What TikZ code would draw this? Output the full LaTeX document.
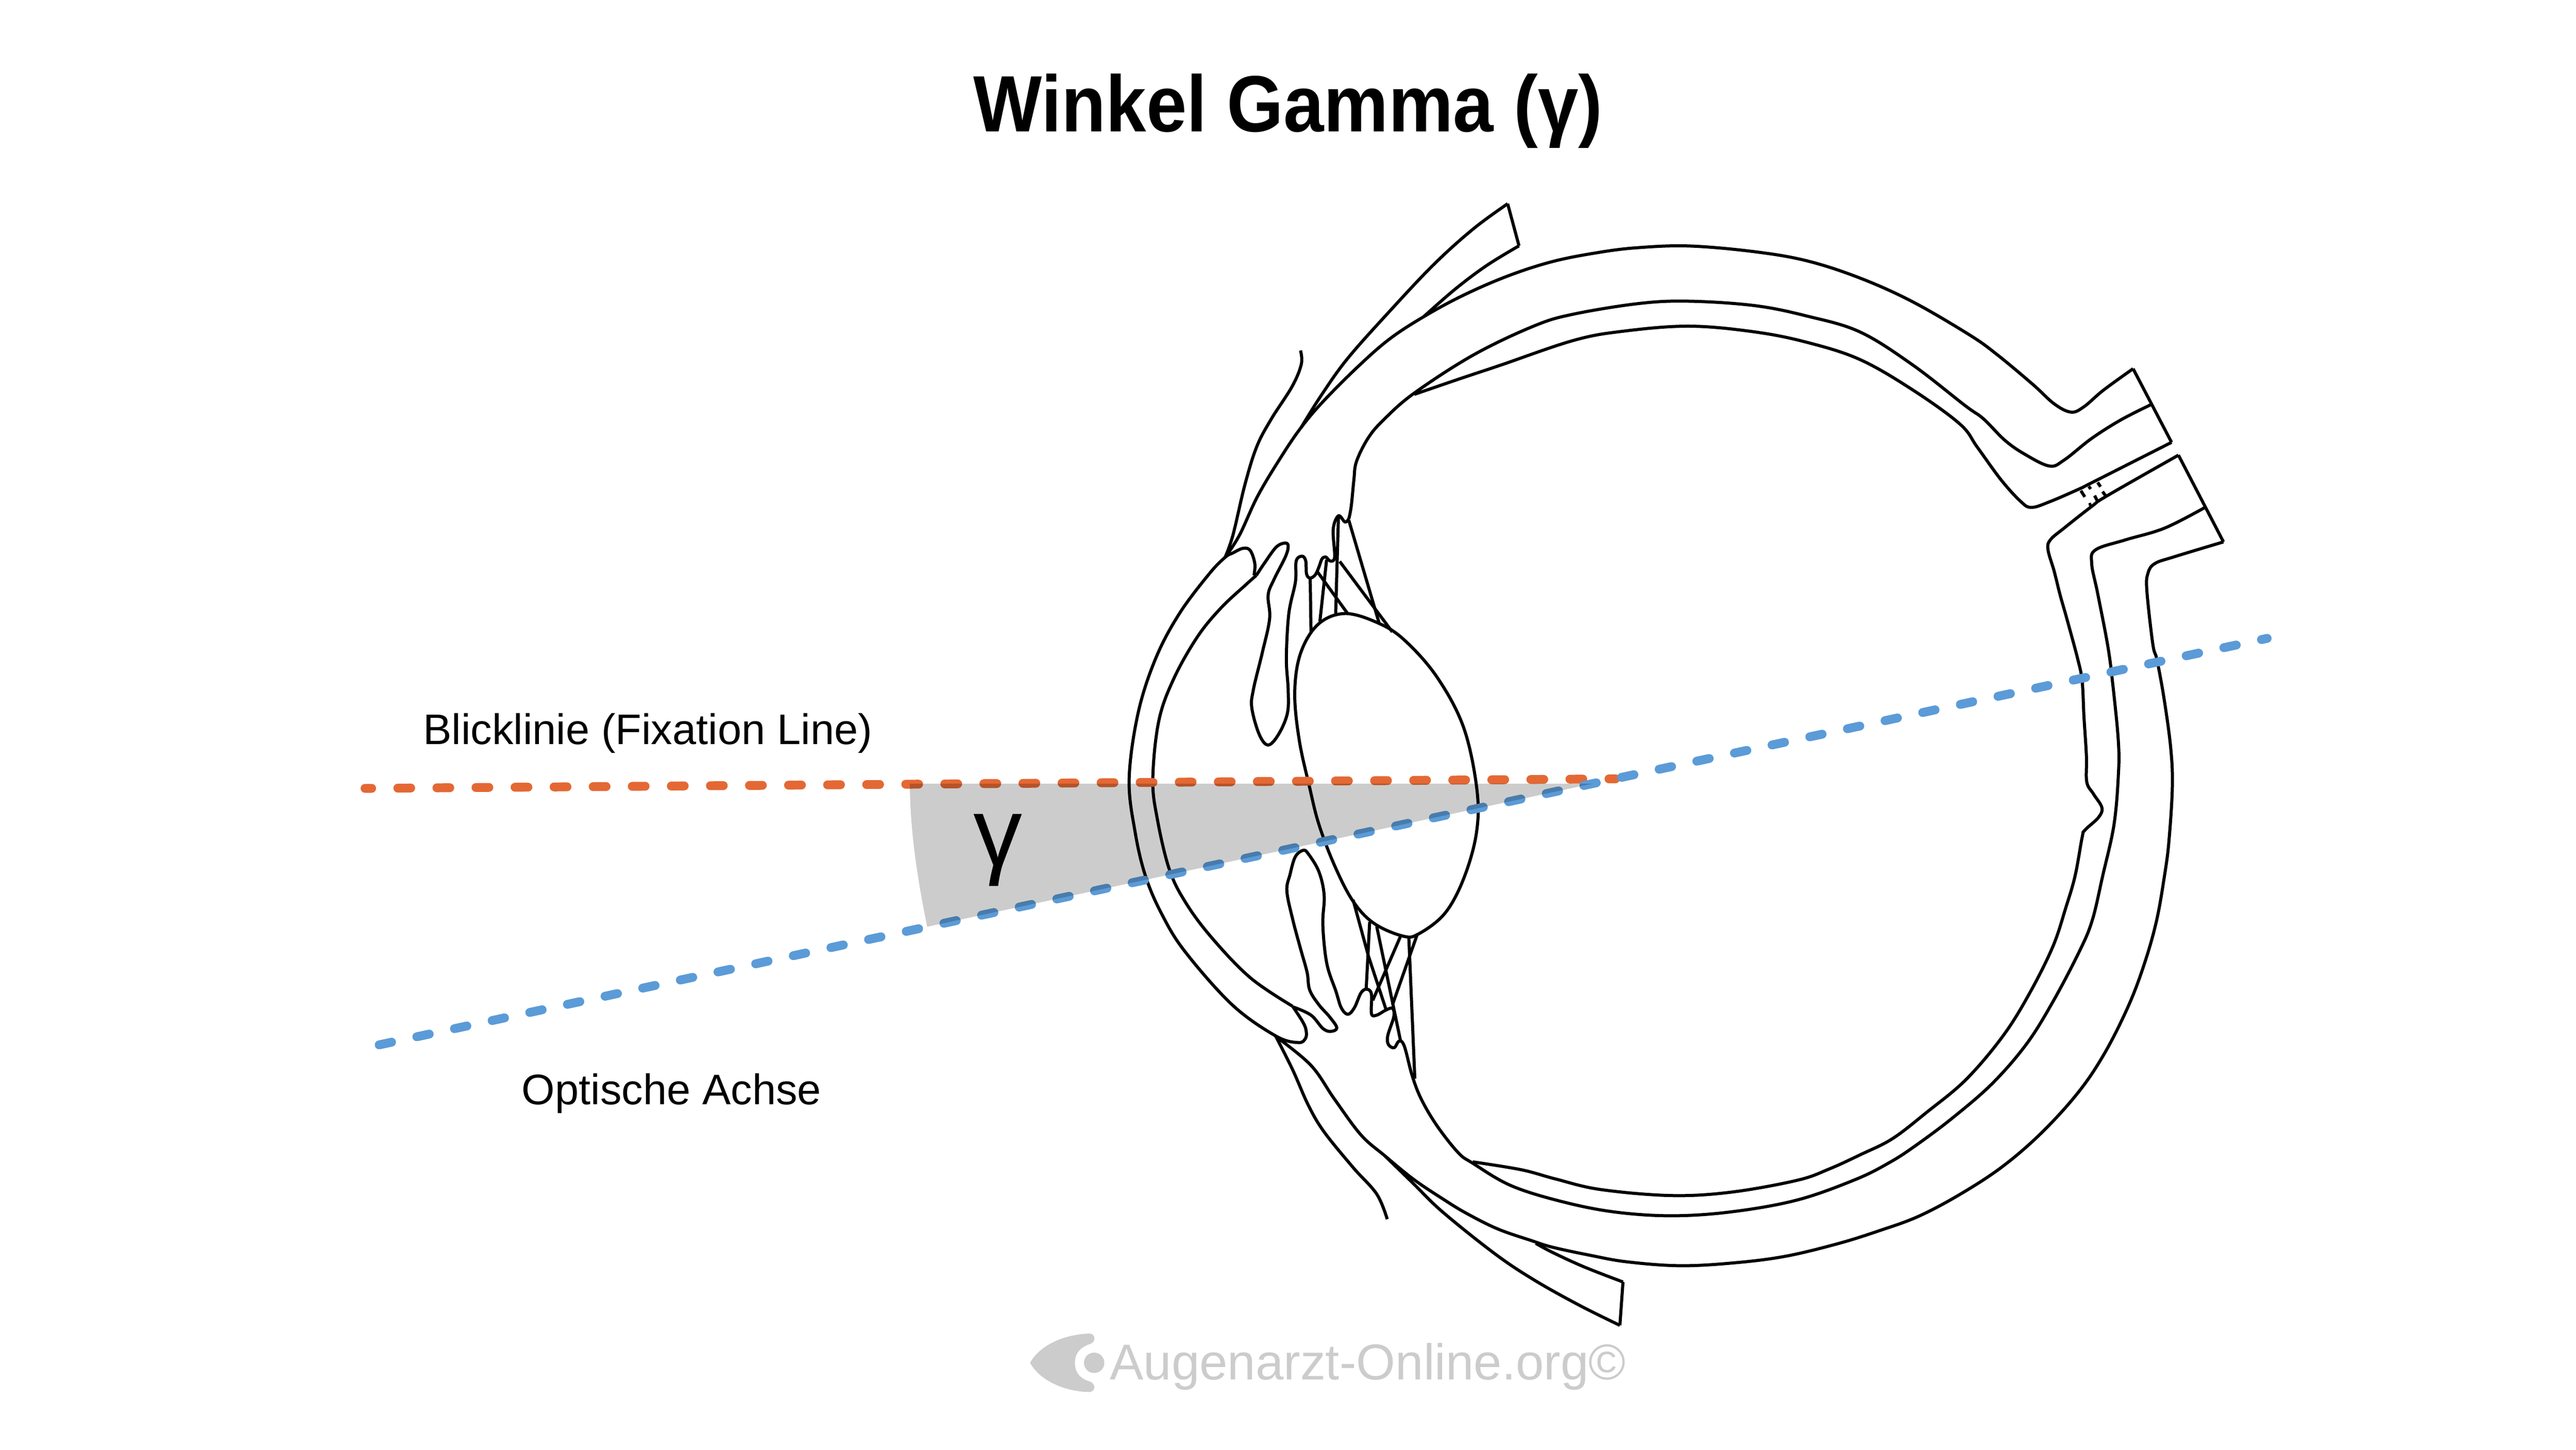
\documentclass[tikz,border=0pt]{standalone}
\usepackage{fontspec}
\setmainfont{Liberation Sans}
\definecolor{dashblue}{HTML}{5B9BD7}
\definecolor{dashorange}{HTML}{E46834}
\definecolor{wedgegrey}{HTML}{CCCCCC}
\tikzset{
  eyeline/.style={draw=black,line width=0.6pt,line join=round,line cap=butt},
  fixline/.style={line width=1.72pt,line cap=round,dash pattern=on 2.5pt off 5.085pt,dash phase=1.22pt},
  optline/.style={line width=1.72pt,line cap=round,dash pattern=on 2.46pt off 5.016pt},
  caption/.style={anchor=base west,inner sep=0pt,font=\fontsize{8.3pt}{10pt}\selectfont},
  mark text/.style={anchor=base west,inner sep=0pt,text=wedgegrey,font=\fontsize{9.78pt}{12pt}\selectfont}
}
\newcommand{\eyecurve}[1]{\draw[eyeline] plot[smooth,tension=.6] coordinates {#1};}
\begin{document}
\begin{tikzpicture}[x=0.31894pt,y=-0.31894pt]
\useasboundingbox (0,0) rectangle (1568,882.3);
\fill[white] (0,0) rectangle (1568,882.3);

% outer sclera, top to the nerve
\eyecurve{(745.7,339.2)(754.5,325.6)(765.7,301.6)(780.1,277.6)(792.1,260)(805.7,244)(826.5,223.2)(845.7,206.4)(866.5,192.8)(890.5,179.8)(917.7,168)(944.9,159.2)(972.1,153.8)(996.1,150.8)(1028.1,149.7)(1068.1,153.2)(1100.1,158.8)(1132.1,169.2)(1164.1,183.6)(1198.8,203.8)(1215.6,215.8)(1237.2,233.8)(1250.4,245.8)(1260.6,250.8)(1268.4,247.6)(1280.4,237.4)(1298.4,224.4)}
% nerve ends
\draw[eyeline] (1298.4,224.4) -- (1321.8,269.2);
\draw[eyeline] (1326,277) -- (1353.4,329.8);
% inner retina, upper
\eyecurve{(860.9,240)(888.9,230.4)(912.9,222.4)(957.7,207.2)(987.8,201.6)(1028.1,198.5)(1068.1,202)(1100.1,208.4)(1132.1,218.8)(1164.1,237.2)(1192.9,258)(1203.6,272.2)(1218,292)(1230,305.2)(1236.6,308.8)(1248,305.2)(1266,297.4)(1273.2,293.8)(1321.8,269.2)}
% middle layer, upper, into the ciliary edge
\eyecurve{(1309.8,246)(1291.2,255.4)(1273.2,266.8)(1256.4,280)(1247.4,283.6)(1232.4,276.4)(1220.4,268)(1207.2,254.8)(1196.1,246.8)(1164.1,222)(1132.1,202)(1100.1,192.4)(1068.1,186)(1028.1,183.3)(997.7,184.7)(957.7,191.2)(933.7,198.4)(896.9,216)(860.9,239.2)(842.5,255.2)(832.9,266.4)(825.7,280.8)(824.1,292)(822.5,308)(821,315.8)}
% superior tendon
\eyecurve{(917.7,124)(896.9,139.2)(872.9,160.8)(845.7,189.6)(820.1,218.4)(804.1,240.8)(792.1,260)}
\draw[eyeline] (917.7,124) -- (924.6,149.6);
\eyecurve{(924.6,149.6)(904.9,161.6)(885.7,176)(866.5,192.8)}
% upper conjunctiva
\eyecurve{(791.6,213.3)(792.1,221.6)(786.5,235.2)(773.7,255.2)(764.9,272)(757.7,295.2)(750.5,325.6)(745.7,339.2)}

% cornea
\eyecurve{(763.3,350.2)(763.8,343)(761,335)(756.6,333.7)(750.3,336.6)(745.7,339.2)(735.9,349.4)(717.9,373.4)(703.5,400.6)(692.7,434.2)(687.3,474.2)(690.9,506.2)(697.2,533)(707,556)(721.2,579)(750,611.5)(776.4,630.4)(790,634.5)(794.5,632.2)(795.1,627.7)(793.2,622.3)(786.8,612.4)}
\eyecurve{(764.7,350.2)(758.4,355.8)(743,370.2)(728.7,387.8)(714.3,413.4)(705.3,439)(701.7,474.2)(704.4,498.2)(711.6,528.6)(721.2,548.5)(737,570)(761,595)(786.8,612.4)}

% upper iris and ciliary body
\eyecurve{(764.7,350.2)(770,342.2)(776.4,333.4)(780.9,330.7)(784,331.5)(782.7,338.2)(775.5,352.6)(771.9,362.2)(772.8,376.6)(768.3,397.4)(762.9,419.8)(762,431)(766.5,447)(771.9,453.4)(778.2,447)(783.6,434.2)(784.1,419.8)(783,400.6)(784.5,373.4)(788.5,354.2)(789,341.4)(792.6,338.5)(794.8,341.4)(795.3,349.4)(797.5,351.8)(800.7,349.7)(803,344.6)(804.7,340.1)(807,339)(809.7,341.4)(812.4,339)(811.5,322.2)(814.7,313.9)(818.7,317.7)(821,315.8)}

% upper zonules
\draw[eyeline] (797.5,351.8) -- (798,384.6);
\draw[eyeline] (807.5,340.6) -- (803.4,378.2);
\draw[eyeline] (814.7,314.2) -- (813,373.4);
\draw[eyeline] (802,348.1) -- (820,373);
\draw[eyeline] (815.5,341.7) -- (847.5,384.6);
\draw[eyeline] (821,316.6) -- (839.4,379);

% lens
\draw[eyeline] plot[smooth cycle,tension=.6] coordinates {(818.7,373.4)(838.5,379)(854.7,389.4)(874.5,411.8)(890.7,442.2)(898.8,479)(898.8,506.2)(891.2,534)(879.6,555.7)(863.6,568.3)(854,569.7)(836.4,562)(823.6,548.5)(812.4,526.9)(802.8,501.7)(797.1,479)(790.8,450.2)(788.1,421.4)(791.7,397.4)(802.5,379.8)};

% lower zonules
\draw[eyeline] (823.6,547.6) -- (833,582) -- (843.6,614.2);
\draw[eyeline] (833.7,561.1) -- (831.6,601.6);
\draw[eyeline] (838,563.8) -- (852.4,633);
\draw[eyeline] (852.4,570) -- (835.6,608.8);
\draw[eyeline] (862.8,568.3) -- (847.6,611.5);
\draw[eyeline] (857.5,569.7) -- (861.2,656.5);

% lower iris, ciliary body, middle layer down and round to the nerve
\eyecurve{(787.6,613)(798,617.8)(805.2,625.9)(810,627.7)(813.7,625.5)(809.2,618.7)(802.8,611.5)(797.2,602.5)(795.6,591.7)(791.6,577.3)(786.8,559.3)(783.3,542.2)(785.2,532.3)(788.4,521.5)(793.2,517.5)(796.4,519.7)(802.8,530.5)(806,544.9)(805.2,562.9)(807.6,586.3)(813.2,603.4)(816.4,613.3)(820.4,617.3)(824.4,613.3)(828.4,604.3)(831.9,602)(834.8,605)(834.8,616.9)(838,617.8)(843.6,614.7)(847.6,613.7)(848.4,618.7)(844.7,630.4)(845.2,635.8)(848.7,637.6)(851.6,633.6)(854.8,636.7)(859.6,654.7)(865.2,669.1)(874.8,685.3)(887.6,701.5)(896.4,707.9)(919.6,721.5)(950,731.1)(982,737.5)(1017.2,739.9)(1054,737.5)(1094,730.3)(1129.5,717.8)(1150.3,707.4)(1166.3,697)(1188.7,680.2)(1212.7,659.4)(1233.5,635.4)(1249.5,609.8)(1265.5,579.4)(1273.5,560.2)(1279.9,533)(1286.7,502.3)(1289.4,472.3)(1289.4,450.7)(1285.7,413.5)(1282.8,392)(1276.8,361)(1273.2,343)(1275.6,334.6)(1293.6,328.6)(1317.6,321.4)(1342.2,308.8)}
% inner retina, lower
\eyecurve{(896.4,707.1)(926,711.9)(946.8,717.5)(974,723.9)(1017.2,727.6)(1054,725.5)(1094,718.3)(1113.5,711.4)(1132.7,702.6)(1151.9,693)(1172.7,677)(1196.7,657)(1219.1,630.6)(1235.1,605)(1249.5,576.2)(1257.5,552.2)(1263.1,533)(1267.4,509.5)(1269,505.3)(1277.3,497.5)(1279.4,491.5)(1274.2,483.1)(1270.2,475.9)(1270,460.3)(1268.5,436.3)(1267.4,414.7)(1264.8,401.5)(1258,376.3)(1254,362.2)(1250.4,347.8)(1246.6,334.6)(1248,328.6)(1256.4,321.4)(1273.2,308.2)(1282.8,301.6)(1326,277)}
% outer sclera, lower
\eyecurve{(1353.4,329.8)(1323.6,338.8)(1311.6,343)(1307.4,349)(1306.8,359.8)(1310.4,392)(1312.9,401.5)(1317.1,424.3)(1321.2,454.3)(1322.3,478.3)(1320.2,512)(1317.5,533)(1312.7,560.2)(1305.5,585.8)(1295.9,611.4)(1281.5,640.2)(1265.5,664.2)(1243.1,689)(1219.1,709.8)(1193.5,726.6)(1167.9,740.2)(1143.9,749)(1118.3,757)(1086,764.7)(1054,768.7)(1022,770.3)(990,767.9)(967.6,763.9)(945.2,759.1)(932.4,755.1)(911.6,747.9)(892.4,738.3)(878,729.5)(860.4,717.7)(842.8,703.3)(828.4,690.7)(812.4,669.1)(798,648.4)(777.2,631.3)}
% lower conjunctiva
\eyecurve{(776.4,630.4)(786.8,651)(796.4,672.7)(806,688.9)(823.6,710.5)(838,726.7)(844.4,742)}
% inferior tendon
\eyecurve{(842.8,703.3)(860,720)(878,737.5)(910,763.1)(934,779.1)(961.2,794.3)(986,806.6)}
\draw[eyeline] (986,806.6) -- (987.9,780.2);
\eyecurve{(987.9,780.2)(964.4,771.1)(945.2,762.3)(934.8,756.7)}
% small ticks at the nerve
\draw[eyeline] (1266.6,298.6) -- (1269,302.4);
\draw[eyeline] (1271.4,296) -- (1272.6,297.6);
\draw[eyeline] (1276.8,293.6) -- (1278.6,296.2);
\draw[eyeline] (1279.8,299.2) -- (1281.6,301.6);
\draw[eyeline] (1275,301.6) -- (1276.8,305.2);
\draw[eyeline] (1271.4,307.2) -- (1273,306.8);

% axes
\coordinate (fixA) at (222.2,479.8);
\coordinate (fixB) at (983.3,474);
\coordinate (optA) at (230.8,635.9);
\coordinate (optB) at (1380,388.5);
\draw[fixline,dashorange] (fixA) -- (fixB);
\draw[optline,dashblue] (optA) -- (optB);

% wedge
\begin{scope}[blend mode=multiply]
\fill[wedgegrey] (969.5,476.9) -- (553.8,476.9) .. controls (554,506) and (558.5,535.5) .. (564.4,564) -- cycle;
\end{scope}
\node[inner sep=0pt,font=\fontsize{19pt}{20pt}\selectfont] (gam) at (607.4,517.5) {γ};

% texts
\node[anchor=base,inner sep=0pt,font=\fontsize{15.5pt}{18pt}\selectfont\bfseries] (title) at (784,80) {\scalebox{0.91}[1]{Winkel Gamma (γ)}};
\node[caption] (fixlab) at (257,453) {Blicklinie (Fixation Line)};
\node[caption] (optlab) at (317,672.3) {Optische Achse};
\node[mark text] (mark) at (675,839.6) {Augenarzt-Online.org©};
% logo
\fill[wedgegrey] (627,829.4) .. controls (633,818.5) and (648,812) .. (663.4,811.6) .. controls (667,812) and (667,816.5) .. (663.9,817.8) .. controls (657,820) and (654.3,824) .. (654.3,829.4) .. controls (654.3,835) and (657,839) .. (663.9,841) .. controls (667,842.5) and (667,847) .. (662.9,847.2) .. controls (648,846.8) and (633,840.3) .. (627,829.4) -- cycle;
\fill[wedgegrey] (666,829.4) circle (6.2);
\end{tikzpicture}
\end{document}
